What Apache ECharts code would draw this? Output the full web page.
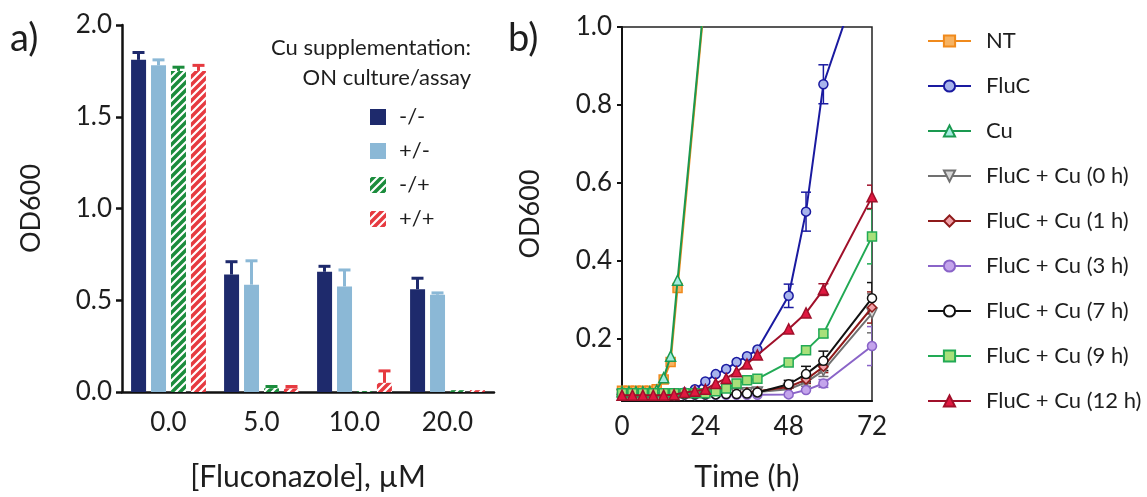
<!DOCTYPE html>
<html><head><meta charset="utf-8">
<script src="https://cdn.jsdelivr.net/npm/echarts@6/dist/echarts.min.js"></script>
<style>html,body{margin:0;padding:0;background:#fff}#c{width:1147px;height:497px}</style>
</head><body><div id="c"></div>
<script>
// ---------- Panel a data ----------
const concLabels = ['0.0', '5.0', '10.0', '20.0'];
const barNames = ['-/-', '+/-', '-/+', '+/+'];
const odNN = [1.81, 0.64, 0.655, 0.56];
const errNN = [0.04, 0.07, 0.03, 0.06];
const odPN = [1.78, 0.585, 0.575, 0.53];
const errPN = [0.03, 0.13, 0.09, 0.01];
const odNP = [1.75, 0.02, 0.005, 0.01];
const errNP = [0.02, 0.01, 0.0, 0.0];
const odPP = [1.75, 0.02, 0.05, 0.01];
const errPP = [0.03, 0.01, 0.065, 0.0];

// ---------- Panel b data ----------
const lineNames = ['NT', 'FluC', 'Cu', 'FluC + Cu (0 h)', 'FluC + Cu (1 h)', 'FluC + Cu (3 h)',
  'FluC + Cu (7 h)', 'FluC + Cu (9 h)', 'FluC + Cu (12 h)'];
const timeEarly = [0, 2, 4, 6, 8, 10, 12, 14, 16, 24];
const ntOD = [0.066, 0.066, 0.066, 0.066, 0.066, 0.07, 0.095, 0.14, 0.33, 1.09];
const cuOD = [0.064, 0.064, 0.064, 0.064, 0.064, 0.068, 0.10, 0.155, 0.35, 1.10];
const timeLate = [0, 3, 6, 9, 12, 15, 18, 21, 24, 27, 30, 33, 36, 39, 48, 53, 58, 72];
const flucOD = [0.06, 0.06, 0.06, 0.06, 0.06, 0.06, 0.062, 0.07, 0.09, 0.109, 0.122, 0.14, 0.155, 0.172, 0.31, 0.526, 0.853, 1.22];
const flucErr = [0, 0, 0, 0, 0, 0, 0, 0, 0, 0, 0, 0, 0, 0, 0.03, 0.05, 0.05, 0];
const fc0OD = [0.057, 0.057, 0.057, 0.057, 0.057, 0.057, 0.057, 0.057, 0.058, 0.058, 0.059, 0.06, 0.061, 0.063, 0.07, 0.088, 0.118, 0.265];
const fc0Err = [0, 0, 0, 0, 0, 0, 0, 0, 0, 0, 0, 0, 0, 0, 0, 0.01, 0.015, 0.05];
const fc1OD = [0.057, 0.057, 0.057, 0.057, 0.057, 0.057, 0.057, 0.058, 0.058, 0.059, 0.06, 0.061, 0.062, 0.065, 0.076, 0.095, 0.128, 0.28];
const fc1Err = [0, 0, 0, 0, 0, 0, 0, 0, 0, 0, 0, 0, 0, 0, 0, 0.01, 0.015, 0.04];
const fc3OD = [0.056, 0.056, 0.056, 0.056, 0.056, 0.056, 0.056, 0.056, 0.056, 0.056, 0.056, 0.056, 0.056, 0.056, 0.057, 0.068, 0.085, 0.181];
const fc3Err = [0, 0, 0, 0, 0, 0, 0, 0, 0, 0, 0, 0, 0, 0, 0, 0, 0.01, 0.05];
const fc7OD = [0.057, 0.057, 0.057, 0.057, 0.057, 0.057, 0.057, 0.057, 0.057, 0.057, 0.058, 0.058, 0.059, 0.062, 0.083, 0.109, 0.143, 0.304];
const fc7Err = [0, 0, 0, 0, 0, 0, 0, 0, 0, 0, 0, 0, 0, 0, 0.01, 0.02, 0.025, 0.04];
const fc9OD = [0.06, 0.06, 0.06, 0.06, 0.06, 0.06, 0.06, 0.06, 0.06, 0.065, 0.072, 0.085, 0.093, 0.097, 0.139, 0.17, 0.213, 0.462];
const fc9Err = [0, 0, 0, 0, 0, 0, 0, 0, 0, 0, 0, 0, 0, 0, 0, 0, 0.01, 0.07];
const fc12OD = [0.055, 0.055, 0.055, 0.055, 0.055, 0.056, 0.062, 0.065, 0.07, 0.085, 0.098, 0.115, 0.135, 0.158, 0.225, 0.266, 0.326, 0.564];
const fc12Err = [0, 0, 0, 0, 0, 0, 0, 0, 0, 0, 0, 0, 0, 0, 0, 0, 0.015, 0.03];

// ---------- styling ----------
const FONT = 'Lato';
const TXT = '#1e1e1e';
const barColors = ['#1e2a6c', '#8bb8d6', '#1b8c3c', '#e63a40'];

function hatch(bg) {
  const c = document.createElement('canvas');
  c.width = 8; c.height = 8;
  const g = c.getContext('2d');
  g.fillStyle = bg; g.fillRect(0, 0, 8, 8);
  g.strokeStyle = '#fff'; g.lineWidth = 2.2;
  g.beginPath();
  g.moveTo(-1, 9); g.lineTo(9, -1);
  g.moveTo(-3, 3); g.lineTo(3, -3);
  g.moveTo(5, 11); g.lineTo(11, 5);
  g.stroke();
  return c;
}
const barFills = [barColors[0], barColors[1],
  { image: hatch(barColors[2]), repeat: 'repeat' },
  { image: hatch(barColors[3]), repeat: 'repeat' }];

const BAR_W = 15, BAR_STEP = 20;
function barErr(vals, errs, idx) {
  const off = -1.5 * BAR_STEP + idx * BAR_STEP;
  const col = barColors[idx];
  return {
    type: 'custom', xAxisIndex: 0, yAxisIndex: 0, z: 3,
    data: vals.map((v, i) => [i, v, errs[i]]),
    renderItem: function (params, api) {
      const e = api.value(2);
      if (!(e > 0)) return null;
      const b = api.coord([api.value(0), api.value(1)]);
      const t = api.coord([api.value(0), api.value(1) + e]);
      const x = b[0] + off;
      return { type: 'group', children: [
        { type: 'line', shape: { x1: x, y1: b[1], x2: x, y2: t[1] }, style: { stroke: col, lineWidth: 3 } },
        { type: 'line', shape: { x1: x - 6, y1: t[1], x2: x + 6, y2: t[1] }, style: { stroke: col, lineWidth: 3 } }
      ] };
    }
  };
}

const lineStyles = [
  { line: '#f08a1c', fill: '#f7b260', sym: 'rect' },
  { line: '#1a1aa0', fill: '#a8b4ec', sym: 'circle' },
  { line: '#1a9950', fill: '#a4ece0', sym: 'triangle' },
  { line: '#707070', fill: '#d8d8d8', sym: 'triangle', rot: 180 },
  { line: '#8e1a1a', fill: '#f0a0a8', sym: 'diamond' },
  { line: '#8a64c8', fill: '#c4a4ec', sym: 'circle' },
  { line: '#111111', fill: '#ffffff', sym: 'circle' },
  { line: '#22aa55', fill: '#a8e07a', sym: 'rect' },
  { line: '#a0102a', fill: '#e01840', sym: 'triangle' }
];
const lineData = [
  [timeEarly, ntOD, null], [timeLate, flucOD, flucErr], [timeEarly, cuOD, null],
  [timeLate, fc0OD, fc0Err], [timeLate, fc1OD, fc1Err], [timeLate, fc3OD, fc3Err],
  [timeLate, fc7OD, fc7Err], [timeLate, fc9OD, fc9Err], [timeLate, fc12OD, fc12Err]
];

const series = [];
[odNN, odPN, odNP, odPP].forEach((d, i) => {
  series.push({
    name: barNames[i], type: 'bar', xAxisIndex: 0, yAxisIndex: 0,
    data: d, barWidth: BAR_W, barGap: '33%',
    itemStyle: { color: barFills[i] }
  });
});
series.push(barErr(odNN, errNN, 0), barErr(odPN, errPN, 1), barErr(odNP, errNP, 2), barErr(odPP, errPP, 3));

lineData.forEach((ld, i) => {
  const s = lineStyles[i];
  const [tt, vv, ee] = ld;
  series.push({
    name: lineNames[i], type: 'line', xAxisIndex: 1, yAxisIndex: 1,
    data: tt.map((t, k) => [t, vv[k]]),
    symbol: s.sym, symbolSize: s.sym === 'triangle' ? 10 : 9, symbolRotate: s.rot || 0,
    showAllSymbol: true, clip: true,
    lineStyle: { color: s.line, width: 2 },
    itemStyle: { color: s.fill, borderColor: s.line, borderWidth: 1.5 },
    z: 3 + i
  });
  if (ee) {
    series.push({
      type: 'custom', xAxisIndex: 1, yAxisIndex: 1, clip: true, z: 2,
      data: tt.map((t, k) => [t, vv[k], ee[k]]),
      renderItem: function (params, api) {
        const e = api.value(2);
        if (!(e > 0)) return null;
        const hi = api.coord([api.value(0), api.value(1) + e]);
        const lo = api.coord([api.value(0), api.value(1) - e]);
        const x = hi[0];
        const st = { stroke: s.line, lineWidth: 1.5 };
        return { type: 'group', children: [
          { type: 'line', shape: { x1: x, y1: hi[1], x2: x, y2: lo[1] }, style: st },
          { type: 'line', shape: { x1: x - 5, y1: hi[1], x2: x + 5, y2: hi[1] }, style: st },
          { type: 'line', shape: { x1: x - 5, y1: lo[1], x2: x + 5, y2: lo[1] }, style: st }
        ] };
      }
    });
  }
});

const tickTxt = { fontFamily: FONT, fontSize: 26, color: TXT };
const titleTxt = { fontFamily: FONT, fontSize: 30, color: TXT };
const odTxt = { fontFamily: FONT, fontSize: 27, color: TXT };
const fmt1 = v => v.toFixed(1);

const option = {
  animation: false,
  backgroundColor: '#fff',
  textStyle: { fontFamily: FONT },
  grid: [
    { left: 122, top: 25, width: 372, height: 369 },
    { left: 622, top: 27, width: 250, height: 376, show: true, borderColor: '#222', borderWidth: 1.5, backgroundColor: 'transparent' }
  ],
  xAxis: [
    { type: 'category', gridIndex: 0, data: concLabels,
      axisLine: { lineStyle: { color: '#111', width: 2.5 } },
      axisTick: { alignWithLabel: true, length: 6, lineStyle: { color: '#111', width: 2.5 } },
      axisLabel: Object.assign({ margin: 18 }, tickTxt),
      name: '[Fluconazole], µM', nameLocation: 'middle', nameGap: 70, nameTextStyle: titleTxt },
    { type: 'value', gridIndex: 1, min: 0, max: 72, interval: 24,
      axisLine: { lineStyle: { color: '#111', width: 2 } },
      axisTick: { show: false },
      splitLine: { show: false },
      axisLabel: Object.assign({ margin: 13 }, tickTxt),
      name: 'Time (h)', nameLocation: 'middle', nameGap: 61, nameTextStyle: titleTxt }
  ],
  yAxis: [
    { type: 'value', gridIndex: 0, min: 0, max: 2, interval: 0.5,
      axisLine: { show: true, lineStyle: { color: '#111', width: 2.5 } },
      axisTick: { show: true, length: 6, lineStyle: { color: '#111', width: 2.5 } },
      splitLine: { show: false },
      axisLabel: Object.assign({ margin: 10, formatter: fmt1 }, tickTxt),
      name: 'OD600', nameLocation: 'middle', nameGap: 77, nameRotate: 90, nameTextStyle: odTxt },
    { type: 'value', gridIndex: 1, min: 0.04, max: 1.0,
      axisLine: { show: true, lineStyle: { color: '#111', width: 2 } },
      axisTick: { show: true, length: 5, customValues: [0.2, 0.4, 0.6, 0.8, 1.0], lineStyle: { color: '#111', width: 2 } },
      splitLine: { show: false },
      axisLabel: Object.assign({ margin: 10, formatter: fmt1, customValues: [0.2, 0.4, 0.6, 0.8, 1.0] }, tickTxt),
      name: 'OD600', nameLocation: 'middle', nameGap: 78, nameRotate: 90, nameTextStyle: odTxt }
  ],
  legend: [
    { data: barNames, orient: 'vertical', left: 365, top: 101, itemWidth: 16, itemHeight: 16, itemGap: 12,
      icon: 'rect', selectedMode: false,
      textStyle: { fontFamily: FONT, fontSize: 22, color: TXT, lineHeight: 22, padding: [0, 0, 0, 8] } },
    { data: lineNames, orient: 'vertical', left: 922, top: 25, itemWidth: 43, itemHeight: 14, itemGap: 23,
      selectedMode: false,
      textStyle: { fontFamily: FONT, fontSize: 22, color: TXT, lineHeight: 22, padding: [0, 0, 0, 10] } }
  ],
  graphic: [
    { type: 'text', left: 10, top: 20, style: { text: 'a)', fontFamily: FONT, fontSize: 38, fill: TXT } },
    { type: 'text', left: 508, top: 20, style: { text: 'b)', fontFamily: FONT, fontSize: 38, fill: TXT } },
    { type: 'text', right: 1147 - 471, top: 37, style: { text: 'Cu supplementation:', fontFamily: FONT, fontSize: 22, fill: TXT, textAlign: 'right' } },
    { type: 'text', right: 1147 - 471, top: 67, style: { text: 'ON culture/assay', fontFamily: FONT, fontSize: 22, fill: TXT, textAlign: 'right' } }
  ],
  series: series
};

const chart = echarts.init(document.getElementById('c'), null, { renderer: 'canvas' });
chart.setOption(option);
</script>
</body></html>
